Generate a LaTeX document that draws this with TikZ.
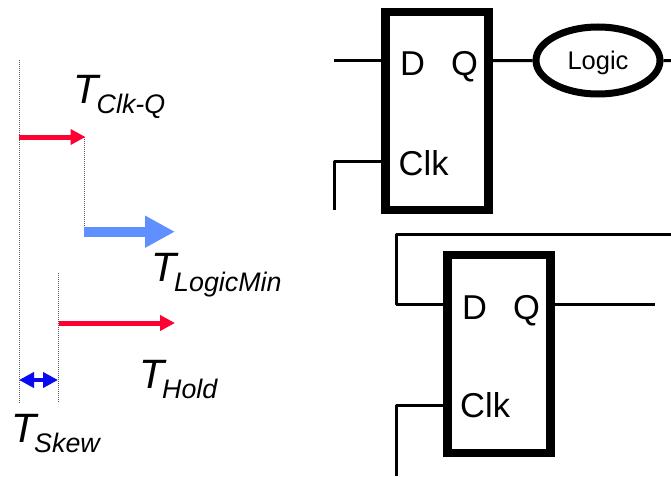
\documentclass[tikz,border=0pt]{standalone}
\usepackage{fontspec}
\setmainfont{Liberation Sans}
\usetikzlibrary{arrows.meta,shapes.geometric}
\definecolor{arrred}{HTML}{FF0033}
\definecolor{arrblue}{HTML}{6090FF}
\definecolor{skewblue}{HTML}{0A0AF0}
\newcommand{\timinglabel}[2]{{\fontsize{41}{41}\selectfont\itshape #1}\kern-2pt\raisebox{-10pt}{\fontsize{26.8}{26.8}\selectfont\itshape #2}}
\tikzset{
  ffbox/.style={draw=black,line width=8.5pt,rectangle,minimum width=103pt,minimum height=198pt,inner sep=0pt},
  logicbox/.style={draw=black,line width=7pt,ellipse,minimum width=124pt,minimum height=67pt,inner sep=0pt,text height=17.6pt,text depth=0pt,font=\fontsize{25.5}{25.5}\selectfont},
  wire/.style={draw=black,line width=3pt,line join=round},
  pin/.style={anchor=base west,inner sep=0pt,font=\fontsize{34.5}{34.5}\selectfont},
  tlabel/.style={anchor=base west,inner sep=0pt},
  guide/.style={draw=black!65,line width=0.8pt,dash pattern=on 1pt off 1pt},
  redarrow/.style={draw=arrred,line width=5pt,-{Triangle[length=15pt,width=15pt,fill=arrred]}},
  bluearrow/.style={draw=arrblue,line width=10pt,-{Triangle[length=30pt,width=30pt,fill=arrblue]}},
  skewarrow/.style={draw=skewblue,line width=4.5pt,{Triangle[length=15pt,width=15pt,fill=skewblue]}-{Triangle[length=15pt,width=15pt,fill=skewblue]}}
}
\begin{document}
\begin{tikzpicture}[x=1pt,y=-1pt]
\useasboundingbox (0,0) rectangle (671,476);

% guides
\coordinate (g1a) at (19,60);   \coordinate (g1b) at (19,403);
\coordinate (g2a) at (58,273);  \coordinate (g2b) at (58,403);
\coordinate (g3a) at (84,137);  \coordinate (g3b) at (84,236);
\draw[guide] (g1a) -- (g1b);
\draw[guide] (g2a) -- (g2b);
\draw[guide] (g3a) -- (g3b);

% timing arrows
\coordinate (r1a) at (19,137);   \coordinate (r1b) at (85.5,137);
\coordinate (b1a) at (84,231.7); \coordinate (b1b) at (175,231.7);
\coordinate (r2a) at (59,323);   \coordinate (r2b) at (175,323);
\coordinate (s1a) at (19,380);   \coordinate (s1b) at (58,380);
\draw[redarrow] (r1a) -- (r1b);
\draw[bluearrow] (b1a) -- (b1b);
\draw[redarrow] (r2a) -- (r2b);
\draw[skewarrow] (s1a) -- (s1b);

% timing labels
\node[tlabel] (tclkq) at (73.5,103.3) {\timinglabel{T}{Clk-Q}};
\node[tlabel] (tlogic) at (151,281.7) {\timinglabel{T}{LogicMin}};
\node[tlabel] (thold) at (139,388) {\timinglabel{T}{Hold}};
\node[tlabel] (tskew) at (11,442.7) {\timinglabel{T}{Skew}};

% first flip-flop
\node[ffbox] (ff1) at (437,111) {};
\node[pin] (d1) at (400,76) {D};
\node[pin] (q1) at (451,76) {Q};
\node[pin] (c1) at (398.5,175) {Clk};
\node[logicbox] (logic) at (598,60.5) {Logic};
\coordinate (in1) at (334,60.7);
\coordinate (clk1a) at (334,209.5);
\coordinate (clk1b) at (334,161.7);
\coordinate (out1) at (671,60.7);
\draw[wire] (in1) -- (ff1.west |- in1);
\draw[wire] (clk1a) -- (clk1b) -- (ff1.west |- clk1b);
\draw[wire] (ff1.east |- in1) -- (logic.west);
\draw[wire] (logic.east) -- (out1);

% second flip-flop
\node[ffbox] (ff2) at (499.2,354.2) {};
\node[pin] (d2) at (462,319) {D};
\node[pin] (q2) at (513,319) {Q};
\node[pin] (c2) at (460,417.7) {Clk};
\coordinate (fb0) at (671,234.6);
\coordinate (fb1) at (396.7,234.6);
\coordinate (fb2) at (396.7,304);
\coordinate (out2) at (655,304);
\coordinate (clk2a) at (396.7,476);
\coordinate (clk2b) at (396.7,405);
\draw[wire] (fb0) -- (fb1) -- (fb2) -- (ff2.west |- fb2);
\draw[wire] (ff2.east |- out2) -- (out2);
\draw[wire] (clk2a) -- (clk2b) -- (ff2.west |- clk2b);
\end{tikzpicture}
\end{document}
